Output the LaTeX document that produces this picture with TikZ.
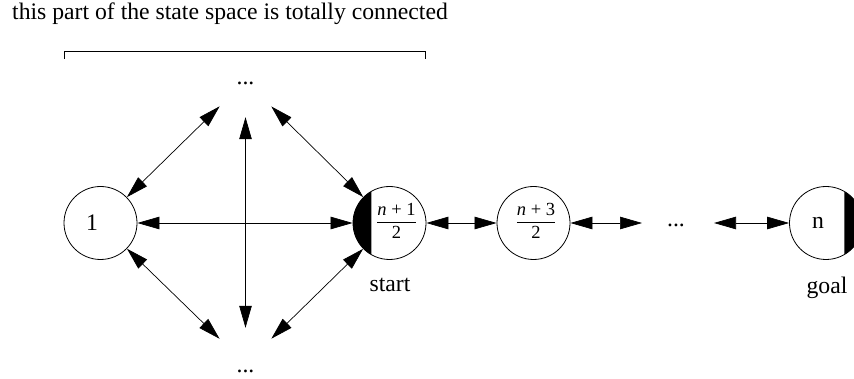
\documentclass[tikz,border=0pt]{standalone}
\usepackage{fontspec}
\setmainfont{Liberation Serif}
\usetikzlibrary{arrows.meta}
\newcommand{\myfrac}[2]{{\setlength{\arrayrulewidth}{0.8pt}\begin{tabular}{@{}c@{}}#1\\\hline\rule{0pt}{16pt}#2\end{tabular}}}
\begin{document}
\begin{tikzpicture}[x=1pt,y=-1pt,
  every node/.style={font=\fontsize{23.7}{28}\selectfont},
  state/.style={circle,draw,line width=0.8pt,minimum size=73pt,inner sep=0pt},
  ghost/.style={circle,minimum size=72pt,inner sep=0pt},
  fr/.style={font=\fontsize{18.5}{20}\selectfont},
  link/.style={line width=0.7pt,{Triangle[length=22pt,width=12.5pt]}-{Triangle[length=22pt,width=12.5pt]}}]
\clip (0,0) rectangle (854,379);
\fill[white] (0,0) rectangle (854,379);
% title and bracket
\node[anchor=base] (title) at (230,20) {this part of the state space is totally connected};
\draw[line width=0.8pt] (64,59) -- (64,51) -- (425,51) -- (425,59);
% states
\node[state] (one) at (100.5,223) {1\hspace*{17pt}};
\node[state,fr] (n1) at (389.5,223) {\hspace*{14pt}\raisebox{-2pt}{\myfrac{\textit{n} + 1}{2}}};
\node[state,fr] (n3) at (533.5,223) {\hspace*{5pt}\raisebox{-2pt}{\myfrac{\textit{n} + 3}{2}}};
\node[state] (nn) at (826,223) {n\hspace*{16pt}};
\fill (n1.center) ++(120:36.5pt) arc[start angle=120,end angle=240,radius=36.5pt] -- cycle;
\fill (nn.center) ++(-60:36.5pt) arc[start angle=-60,end angle=60,radius=36.5pt] -- cycle;
% invisible states with dots
\node[ghost,text height=7pt,text depth=0pt] (top) at (245.5,81) {...};
\node[ghost,text height=17pt,text depth=0pt] (bot) at (245.5,364) {...};
\node (dots) at (676,225) {...};
\coordinate (c1) at (642,223);
\coordinate (c2) at (714,223);
% labels
\node (start) at (390,285) {start};
\node (goal) at (827,288) {goal};
% connectors
\draw[link] (one) -- (n1);
\draw[link] (one) -- (top);
\draw[link] (one) -- (bot);
\draw[link] (n1) -- (top);
\draw[link] (n1) -- (bot);
\draw[link] (top) -- (bot);
\draw[link] (n1) -- (n3);
\draw[link] (n3) -- (c1);
\draw[link] (c2) -- (nn);
\end{tikzpicture}
\end{document}
